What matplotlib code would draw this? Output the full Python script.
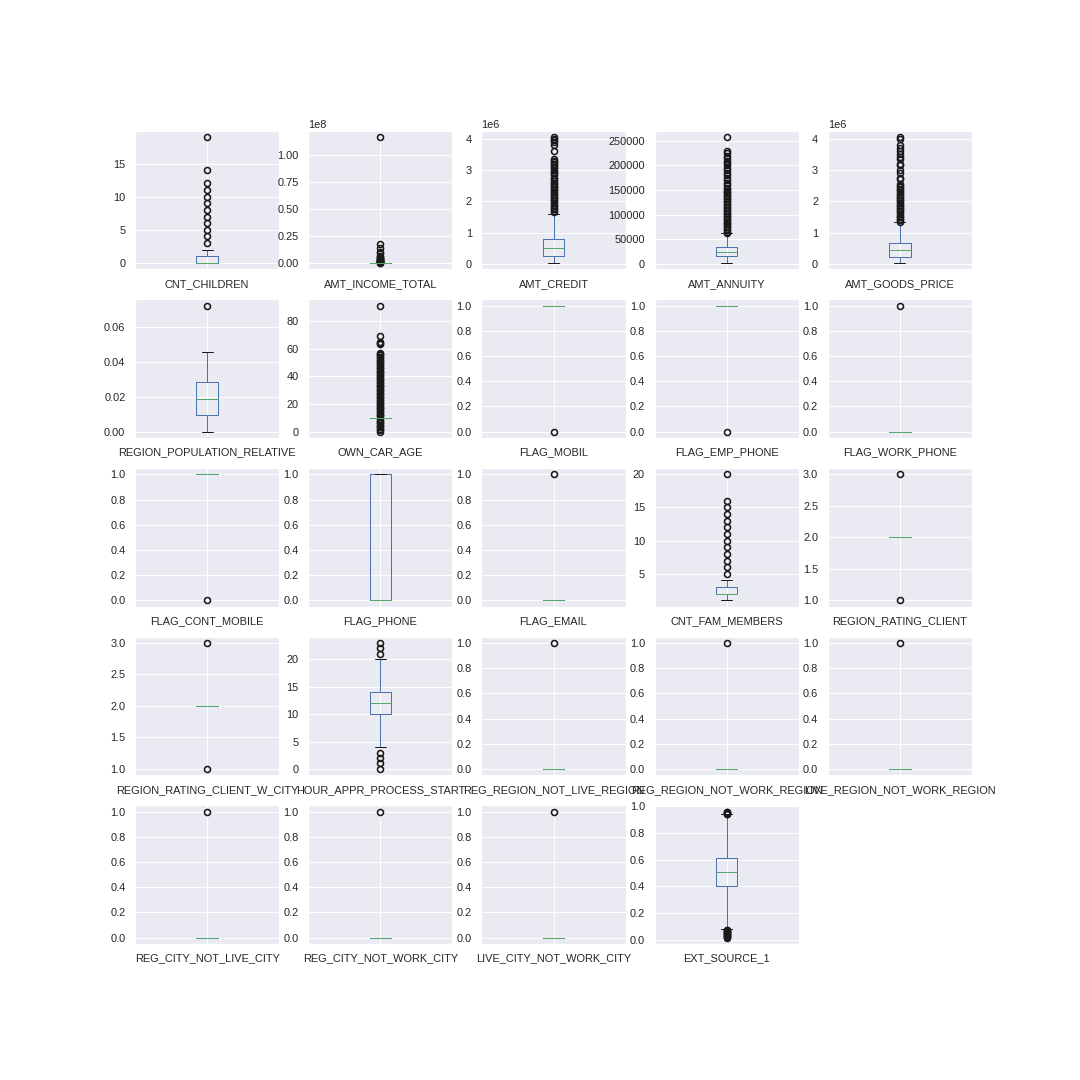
import matplotlib
matplotlib.use("Agg")
import matplotlib.pyplot as plt
import seaborn as sns

sns.set_theme(style="darkgrid")
plt.rcParams['font.family'] = ['Liberation Sans', 'DejaVu Sans']

# column names, in the order of the 5x5 layout
columns = [
    "CNT_CHILDREN", "AMT_INCOME_TOTAL", "AMT_CREDIT", "AMT_ANNUITY", "AMT_GOODS_PRICE",
    "REGION_POPULATION_RELATIVE", "OWN_CAR_AGE", "FLAG_MOBIL", "FLAG_EMP_PHONE", "FLAG_WORK_PHONE",
    "FLAG_CONT_MOBILE", "FLAG_PHONE", "FLAG_EMAIL", "CNT_FAM_MEMBERS", "REGION_RATING_CLIENT",
    "REGION_RATING_CLIENT_W_CITY", "HOUR_APPR_PROCESS_START", "REG_REGION_NOT_LIVE_REGION",
    "REG_REGION_NOT_WORK_REGION", "LIVE_REGION_NOT_WORK_REGION",
    "REG_CITY_NOT_LIVE_CITY", "REG_CITY_NOT_WORK_CITY", "LIVE_CITY_NOT_WORK_CITY", "EXT_SOURCE_1",
]

# box statistics
q1 = [0, 112500, 270000, 16524, 238500,
      0.010006, 10, 1, 1, 0,
      1, 0, 0, 2, 2,
      2, 10, 0, 0, 0,
      0, 0, 0, 0.40]
median = [0, 147150, 513531, 24903, 450000,
          0.01885, 10, 1, 1, 0,
          1, 0, 0, 2, 2,
          2, 12, 0, 0, 0,
          0, 0, 0, 0.51]
q3 = [1, 202500, 808650, 34596, 679500,
      0.028663, 10, 1, 1, 0,
      1, 1, 0, 3, 2,
      2, 14, 0, 0, 0,
      0, 0, 0, 0.615]
whis_lo = [0, 25650, 45000, 1615.5, 40500,
           0.00029, 10, 1, 1, 0,
           1, 0, 0, 1, 2,
           2, 4, 0, 0, 0,
           0, 0, 0, 0.08]
whis_hi = [2, 337500, 1616000, 61704, 1341000,
           0.04622, 10, 1, 1, 0,
           1, 1, 0, 4, 2,
           2, 20, 0, 0, 0,
           0, 0, 0, 0.94]

# outliers per column
fliers_children = [3, 4, 5, 6, 7, 8, 9, 10, 11, 12, 14, 19]
fliers_income = [360000, 450000, 585000, 720000, 900000, 1125000, 1350000, 1575000,
                 1800000, 2250000, 2700000, 3150000, 3600000, 3950000, 4500000,
                 5500000, 6750000, 9000000, 10500000, 13500000, 18000090, 117000000]
fliers_credit = [1650000, 1700000, 1750000, 1800000, 1850000, 1900000, 1950000, 2000000,
                 2050000, 2100000, 2150000, 2200000, 2250000, 2300000, 2350000, 2400000,
                 2450000, 2500000, 2550000, 2600000, 2650000, 2700000, 2750000, 2850000,
                 2900000, 2950000, 3000000, 3050000, 3100000, 3150000, 3200000, 3250000,
                 3300000, 3350000, 3600000, 3800000, 3900000, 3950000, 4000000, 4050000]
fliers_annuity = [62000, 65000, 68000, 71000, 74000, 77000, 80000, 83000, 86000, 89000,
                  92000, 95000, 98000, 101000, 104000, 107000, 110000, 113000, 116000,
                  119000, 122000, 125000, 128000, 131000, 134000, 137000, 140000, 143000,
                  146000, 149000, 152000, 155000, 160000, 165000, 170000, 175000, 180000,
                  185000, 190000, 195000, 200000, 205000, 210000, 215000, 220000, 225000,
                  230000, 258025.5]
fliers_goods = [1350000, 1400000, 1450000, 1500000, 1550000, 1600000, 1650000, 1700000,
                1750000, 1800000, 1850000, 1900000, 1950000, 2000000, 2050000, 2100000,
                2150000, 2200000, 2250000, 2300000, 2350000, 2400000, 2450000, 2500000,
                2550000, 2700000, 2750000, 2900000, 3000000, 3150000, 3200000, 3350000,
                3400000, 3500000, 3600000, 3700000, 3800000, 4000000, 4050000]
fliers_population = [0.072508]
fliers_car_age = [0, 1, 2, 3, 4, 5, 6, 7, 8, 9, 11, 12, 13, 14, 15, 16, 17, 18, 19, 20,
                  21, 22, 23, 24, 25, 26, 27, 28, 29, 30, 31, 32, 33, 34, 35, 36, 37, 38,
                  39, 40, 41, 42, 43, 44, 45, 46, 47, 48, 49, 50, 51, 52, 53, 54, 55, 56,
                  57, 63, 64, 65, 69, 91]
fliers_fam = [5, 6, 7, 8, 9, 10, 11, 12, 13, 14, 15, 16, 20]
fliers_hour = [0, 1, 2, 3, 21, 22, 23]
fliers_ext1 = [0.015, 0.02, 0.025, 0.03, 0.035, 0.04, 0.045, 0.05, 0.055, 0.06, 0.065,
               0.07, 0.075, 0.94, 0.945, 0.95, 0.955, 0.96]

fliers = [fliers_children, fliers_income, fliers_credit, fliers_annuity, fliers_goods,
          fliers_population, fliers_car_age, [0], [0], [1],
          [0], [], [1], fliers_fam, [1, 3],
          [1, 3], fliers_hour, [1], [1], [1],
          [1], [1], [1], fliers_ext1]

fig, axes = plt.subplots(5, 5, figsize=(15, 15), dpi=72)
fig.subplots_adjust(left=0.125, right=0.9, top=0.879, bottom=0.126, hspace=0.217)
axes = axes.ravel()

for i, name in enumerate(columns):
    ax = axes[i]
    stats = [{
        'label': name,
        'q1': q1[i], 'med': median[i], 'q3': q3[i],
        'whislo': whis_lo[i], 'whishi': whis_hi[i],
        'fliers': fliers[i],
    }]
    ax.bxp(stats,
           boxprops=dict(color='#4C72B0'),
           whiskerprops=dict(color='#4C72B0'),
           medianprops=dict(color='#55A868'),
           capprops=dict(color='k'),
           flierprops=dict(marker='o', markerfacecolor='none', markeredgecolor='k',
                           markeredgewidth=1.6))
    ax.tick_params(labelsize=11)

axes[-1].set_visible(False)

plt.savefig('out.png', dpi=72)
